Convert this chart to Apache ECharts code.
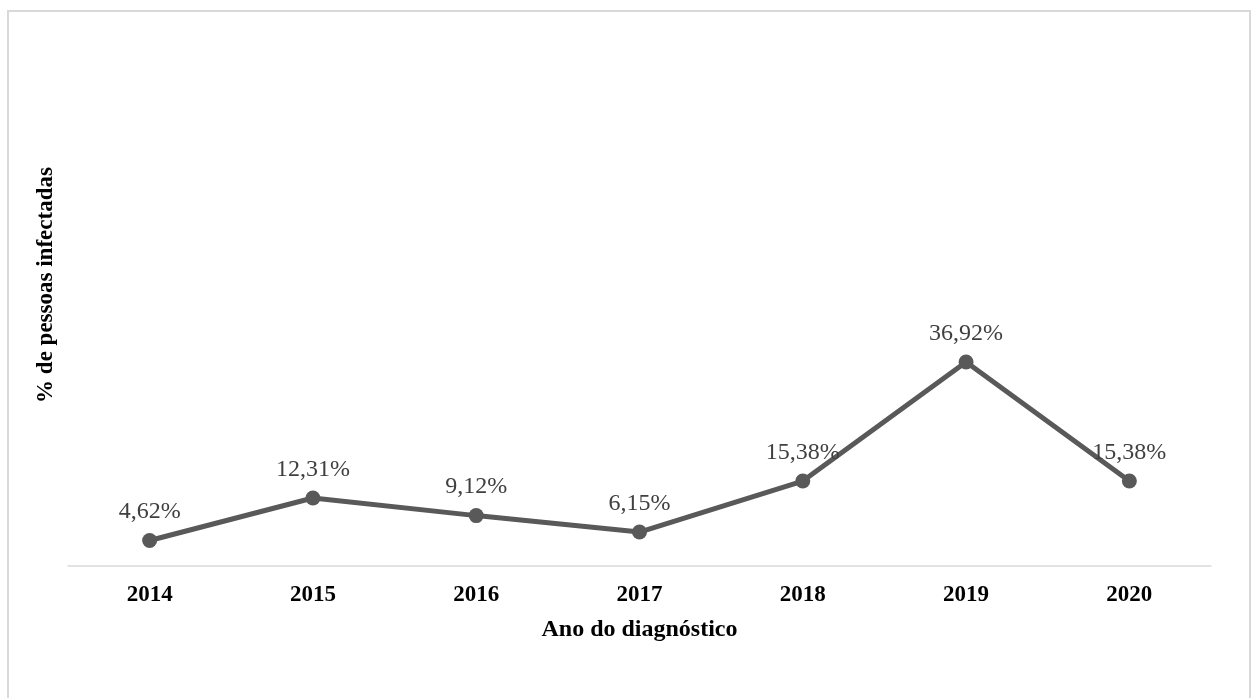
<!DOCTYPE html>
<html>
<head>
<meta charset="utf-8">
<script src="https://cdn.jsdelivr.net/npm/echarts@6/dist/echarts.min.js"></script>
<style>
html,body{margin:0;padding:0;background:#fff;}
#c{width:1256px;height:698px;}
</style>
</head>
<body>
<div id="c"></div>
<script>
const categories = ['2014', '2015', '2016', '2017', '2018', '2019', '2020'];
const values = [4.62, 12.31, 9.12, 6.15, 15.38, 36.92, 15.38];
const valueLabels = ['4,62%', '12,31%', '9,12%', '6,15%', '15,38%', '36,92%', '15,38%'];
const xTitle = 'Ano do diagnóstico';
const yTitle = '% de pessoas infectadas';

const serif = '"Liberation Serif", "Times New Roman", serif';
const chart = echarts.init(document.getElementById('c'));
chart.setOption({
  animation: false,
  backgroundColor: '#fff',
  graphic: [
    {
      type: 'rect',
      shape: { x: 8, y: 11, width: 1242, height: 720 },
      style: { fill: 'none', stroke: '#d9d9d9', lineWidth: 2 },
      silent: true
    },
    {
      type: 'text',
      x: 46, y: 285,
      rotation: Math.PI / 2,
      style: {
        text: yTitle,
        font: 'bold 23px ' + serif,
        fill: '#000',
        align: 'center',
        verticalAlign: 'middle'
      }
    }
  ],
  grid: { left: 68, right: 45, top: 13.5, bottom: 132 },
  xAxis: {
    type: 'category',
    data: categories,
    boundaryGap: true,
    axisLine: { lineStyle: { color: '#d9d9d9', width: 1.5 } },
    axisTick: { show: false },
    axisLabel: { margin: 18, fontFamily: serif, fontSize: 23, fontWeight: 'bold', color: '#000' },
    name: xTitle,
    nameLocation: 'middle',
    nameGap: 52,
    nameTextStyle: { fontFamily: serif, fontSize: 24, fontWeight: 'bold', color: '#000' }
  },
  yAxis: {
    type: 'value',
    min: 0,
    max: 100,
    show: false
  },
  series: [{
    type: 'line',
    data: values,
    symbol: 'circle',
    symbolSize: 15,
    lineStyle: { color: '#595959', width: 5 },
    itemStyle: { color: '#595959' },
    label: {
      show: true,
      position: 'top',
      distance: 9,
      fontFamily: serif,
      fontSize: 24,
      color: '#404040',
      formatter: p => valueLabels[p.dataIndex]
    }
  }]
});
</script>
</body>
</html>
